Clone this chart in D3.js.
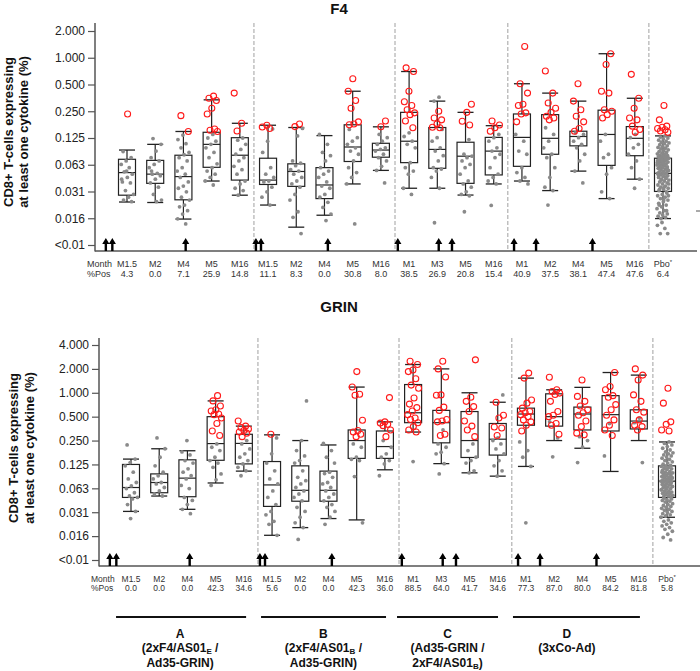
<!DOCTYPE html>
<html><head><meta charset="utf-8">
<script src="https://cdn.jsdelivr.net/npm/d3@7"></script>
<style>body{margin:0;background:#fff} svg{display:block} text{font-family:"Liberation Sans",Arial,Helvetica,sans-serif}</style>
</head><body><script>
// ---------- DATA ----------
const months = ["M1.5","M2","M4","M5","M16","M1.5","M2","M4","M5","M16","M1","M3","M5","M16","M1","M2","M4","M5","M16","Pbo"];
const f4PctPos = ["4.3","0.0","7.1","25.9","14.8","11.1","8.3","0.0","30.8","8.0","38.5","26.9","20.8","15.4","40.9","37.5","38.1","47.4","47.6","6.4"];
const grinPctPos = ["0.0","0.0","0.0","42.3","34.6","5.6","0.0","0.0","42.3","36.0","88.5","64.0","41.7","34.6","77.3","87.0","80.0","84.2","81.8","5.8"];
const tickValues = [0.0078125,0.015625,0.03125,0.0625,0.125,0.25,0.5,1,2,4];
const tickLabels = ["<0.01","0.016","0.031","0.063","0.125","0.250","0.500","1.000","2.000","4.000"];
const groupBreaks = [4.5, 9.5, 13.5, 18.5];
const vaccinationSlots = [-0.75,-0.52,2.08,4.57,4.75,7.12,9.6,11.05,11.52,13.72,14.5,16.5];
const groupNames = ["A","B","C","D"];
const groupSpans = [[-0.53,4.08],[4.61,9.04],[9.43,13.01],[13.54,18.04]];
const groupLabelSlots = [1.74,6.82,11.22,15.45];
const groupRegimens = [
  [[["(2xF4/AS01",0],["E",1],[" /",0]],[["Ad35-GRIN)",0]]],
  [[["(2xF4/AS01",0],["B",1],[" /",0]],[["Ad35-GRIN)",0]]],
  [[["(Ad35-GRIN /",0]],[["2xF4/AS01",0],["B",1],[")",0]]],
  [[["(3xCo-Ad)",0]]]
];

// box stats: [whisker low, q1, median, q3, whisker high]
const f4Box = [
  [0.0238,0.0284,0.051,0.072,0.0915],
  [0.0235,0.0386,0.049,0.070,0.106],
  [0.0153,0.0252,0.046,0.080,0.148],
  [0.041,0.0585,0.106,0.145,0.336],
  [0.0284,0.042,0.080,0.126,0.183],
  [0.022,0.0375,0.042,0.074,0.174],
  [0.0124,0.0357,0.0525,0.064,0.164],
  [0.0169,0.026,0.037,0.058,0.133],
  [0.038,0.068,0.099,0.176,0.42],
  [0.054,0.076,0.0915,0.109,0.167],
  [0.034,0.066,0.115,0.243,0.70],
  [0.034,0.057,0.093,0.164,0.325],
  [0.0285,0.0386,0.078,0.112,0.243],
  [0.038,0.048,0.089,0.127,0.172],
  [0.041,0.060,0.127,0.233,0.51],
  [0.032,0.082,0.124,0.229,0.40],
  [0.053,0.102,0.13,0.149,0.325],
  [0.026,0.0615,0.137,0.257,1.11],
  [0.043,0.079,0.124,0.168,0.35],
  [0.0155,0.0313,0.05,0.074,0.132]
];
// responders (red open circles)
const f4Pos = [
  [0.233],
  [],
  [0.223,0.148],
  [0.37,0.35,0.33,0.27,0.233,0.158,0.153,0.148],
  [0.40,0.183,0.150],
  [0.174,0.166,0.160],
  [0.18,0.168],
  [],
  [0.58,0.42,0.33,0.27,0.19,0.18,0.176],
  [0.194,0.167],
  [0.77,0.70,0.42,0.32,0.29,0.26,0.24,0.229,0.194,0.163],
  [0.25,0.21,0.20,0.18,0.165,0.163],
  [0.30,0.243,0.193,0.175],
  [0.194,0.175,0.163,0.149],
  [1.34,0.51,0.40,0.30,0.29,0.24,0.233,0.19],
  [0.71,0.40,0.31,0.27,0.243,0.22,0.21,0.20],
  [0.51,0.325,0.26,0.22,0.19,0.16,0.149],
  [1.11,0.84,0.42,0.40,0.26,0.25,0.229,0.21],
  [0.65,0.35,0.27,0.21,0.20,0.17,0.156,0.145],
  [0.29,0.20,0.17,0.165,0.16,0.155,0.15,0.145]
];
// non-responders (grey dots)
const f4Neg = [
  [0.088,0.075,0.069,0.063,0.058,0.052,0.049,0.045,0.040,0.039,0.032,0.029,0.027,0.025,0.024,0.053,0.043],
  [0.123,0.106,0.089,0.075,0.069,0.063,0.058,0.050,0.049,0.047,0.043,0.039,0.035,0.029,0.025,0.024,0.053],
  [0.135,0.12,0.108,0.097,0.086,0.081,0.075,0.069,0.058,0.053,0.049,0.045,0.040,0.036,0.034,0.031,0.027,0.025,0.022,0.021,0.019,0.0174,0.0154,0.0135],
  [0.137,0.125,0.115,0.106,0.097,0.086,0.075,0.064,0.058,0.053,0.049,0.045,0.041,0.037],
  [0.125,0.118,0.106,0.093,0.082,0.075,0.069,0.060,0.055,0.049,0.041,0.038,0.034,0.032,0.0284],
  [0.158,0.115,0.086,0.058,0.049,0.045,0.041,0.040,0.035,0.031,0.027,0.022],
  [0.16,0.132,0.069,0.065,0.061,0.055,0.053,0.049,0.045,0.041,0.038,0.035,0.029,0.025,0.0185,0.016,0.0105],
  [0.137,0.106,0.086,0.079,0.069,0.058,0.053,0.049,0.045,0.040,0.036,0.034,0.029,0.027,0.0236,0.0207,0.0174,0.0147],
  [0.156,0.126,0.115,0.106,0.097,0.089,0.082,0.069,0.058,0.051,0.045,0.038,0.0135],
  [0.137,0.126,0.115,0.106,0.097,0.093,0.089,0.082,0.075,0.069,0.060,0.054,0.039],
  [0.143,0.13,0.115,0.106,0.097,0.066,0.058,0.053,0.049,0.034,0.029],
  [0.36,0.325,0.156,0.126,0.115,0.097,0.089,0.079,0.069,0.058,0.056,0.053,0.045,0.034,0.0139],
  [0.12,0.082,0.078,0.075,0.069,0.063,0.058,0.049,0.041,0.038,0.035,0.031,0.029,0.028,0.0185],
  [0.137,0.126,0.115,0.097,0.089,0.082,0.075,0.058,0.049,0.045,0.041,0.038,0.0218],
  [0.137,0.115,0.089,0.082,0.058,0.051,0.045,0.041,0.038],
  [0.163,0.137,0.115,0.097,0.082,0.075,0.058,0.045,0.035,0.032,0.022],
  [0.143,0.137,0.126,0.115,0.106,0.097,0.082,0.069,0.053,0.039],
  [0.137,0.115,0.082,0.075,0.058,0.049,0.031,0.026],
  [0.137,0.126,0.106,0.097,0.082,0.069,0.058,0.043,0.034],
  [0.132,0.128,0.125,0.122,0.118,0.115,0.112,0.110,0.108,0.105,0.102,0.100,0.098,0.096,0.094,0.092,0.090,0.088,0.086,0.085,0.083,0.082,0.080,0.079,0.078,0.077,0.076,0.075,0.074,0.074,
   0.073,0.072,0.071,0.070,0.069,0.068,0.067,0.066,0.065,0.064,0.063,0.062,0.061,0.060,0.059,0.058,0.057,0.056,0.055,0.054,0.053,0.052,0.051,0.050,0.050,0.049,0.048,0.047,0.046,0.045,0.044,0.043,0.042,0.041,0.040,0.039,0.038,0.037,0.036,0.035,0.034,0.033,0.032,0.031,
   0.070,0.066,0.062,0.058,0.055,0.052,0.048,0.045,0.042,0.038,0.035,0.033,
   0.030,0.029,0.028,0.027,0.026,0.025,0.024,0.023,0.022,0.021,0.020,0.019,0.018,0.0175,0.017,0.0165,0.016,0.0155,0.028,0.025,0.022,0.019,
   0.014,0.013,0.012,0.0105,0.0105]
];

const grinBox = [
  [0.032,0.048,0.064,0.125,0.146],
  [0.050,0.055,0.074,0.095,0.197],
  [0.034,0.049,0.084,0.143,0.186],
  [0.073,0.141,0.229,0.50,0.79],
  [0.103,0.127,0.23,0.30,0.38],
  [0.016,0.037,0.069,0.136,0.295],
  [0.020,0.043,0.059,0.120,0.25],
  [0.026,0.043,0.059,0.103,0.22],
  [0.025,0.149,0.25,0.34,1.18],
  [0.107,0.149,0.21,0.33,0.43],
  [0.32,0.42,0.56,1.27,2.27],
  [0.128,0.234,0.42,0.60,2.0],
  [0.098,0.153,0.25,0.58,1.0],
  [0.089,0.164,0.26,0.41,0.76],
  [0.118,0.39,0.54,0.64,1.53],
  [0.25,0.38,0.50,0.97,1.09],
  [0.20,0.34,0.54,0.66,1.17],
  [0.102,0.33,0.53,0.92,1.8],
  [0.25,0.35,0.44,0.61,1.67],
  [0.027,0.048,0.077,0.12,0.24]
];
const grinPos = [
  [],[],[],
  [0.92,0.79,0.68,0.61,0.59,0.54,0.53,0.48,0.41,0.33,0.29],
  [0.44,0.38,0.365,0.35,0.335,0.32,0.31,0.28],
  [0.30],
  [],[],
  [1.85,1.18,0.96,0.93,0.45,0.335,0.32,0.30,0.28],
  [0.87,0.43,0.415,0.40,0.385,0.34,0.28],
  [2.5,2.27,1.94,1.85,1.5,1.25,1.14,0.86,0.72,0.65,0.59,0.53,0.48,0.46,0.42,0.375,0.34,0.32],
  [2.5,2.0,1.58,0.94,0.93,0.66,0.6,0.46,0.44,0.43,0.30,0.29],
  [2.6,0.88,0.78,0.67,0.58,0.44,0.38,0.34,0.28],
  [0.76,0.52,0.48,0.37,0.36,0.29],
  [1.77,1.53,0.81,0.74,0.64,0.58,0.56,0.53,0.5,0.455,0.43,0.39,0.33],
  [1.57,1.09,1.04,0.99,0.95,0.78,0.58,0.52,0.5,0.41,0.39,0.30],
  [1.45,0.9,0.78,0.68,0.61,0.56,0.52,0.44,0.375,0.31,0.295],
  [1.8,1.2,1.09,0.92,0.88,0.71,0.61,0.52,0.455,0.39,0.34,0.29],
  [2.0,1.67,1.45,0.94,0.78,0.61,0.57,0.455,0.39,0.375,0.34],
  [1.14,0.74,0.43,0.40,0.34,0.33]
];
const grinNeg = [
  [0.22,0.146,0.132,0.12,0.1,0.082,0.074,0.067,0.062,0.055,0.05,0.048,0.046,0.039,0.032,0.026],
  [0.27,0.197,0.154,0.12,0.1,0.09,0.082,0.074,0.071,0.064,0.058,0.053,0.050],
  [0.25,0.18,0.165,0.14,0.13,0.11,0.1,0.09,0.082,0.068,0.062,0.048,0.044,0.039,0.034,0.030],
  [0.227,0.206,0.187,0.154,0.14,0.13,0.115,0.095,0.08,0.068],
  [0.25,0.227,0.196,0.17,0.154,0.14,0.127,0.115,0.104,0.09],
  [0.27,0.17,0.13,0.104,0.082,0.071,0.058,0.048,0.039,0.032,0.029,0.024,0.022,0.016],
  [0.79,0.25,0.187,0.16,0.14,0.13,0.104,0.086,0.078,0.071,0.064,0.058,0.053,0.048,0.0435,0.036,0.032,0.027,0.023,0.020,0.0142],
  [0.23,0.187,0.154,0.13,0.1,0.096,0.086,0.074,0.071,0.064,0.058,0.053,0.048,0.0435,0.039,0.036,0.032,0.027,0.022],
  [0.227,0.206,0.154,0.145,0.14,0.088,0.023],
  [0.25,0.206,0.17,0.154,0.14,0.127,0.09],
  [0.136],
  [0.34,0.227,0.206,0.178,0.17,0.128,0.095],
  [0.227,0.187,0.154,0.14,0.13,0.104,0.098],
  [0.94,0.27,0.25,0.227,0.196,0.17,0.14,0.12,0.104,0.089],
  [0.24,0.187,0.154,0.118,0.023],
  [0.43,0.27,0.156],
  [0.28,0.25,0.206,0.132],
  [0.41,0.16],
  [0.48,0.42,0.132],
  [0.24,0.23,0.22,0.21,0.20,0.19,0.18,0.175,0.17,0.165,0.16,0.155,0.15,0.145,0.14,0.135,0.13,0.126,0.122,0.12,0.118,0.115,0.112,0.11,0.108,0.105,0.102,0.10,0.098,0.096,0.094,0.092,0.09,0.088,0.086,0.085,0.084,0.082,0.08,0.079,0.078,0.077,0.076,0.075,0.074,0.072,0.07,0.069,0.068,0.066,0.065,0.064,0.062,0.061,0.06,0.058,0.057,0.056,0.055,0.054,0.053,0.052,0.051,0.05,0.049,0.048,
   0.11,0.1,0.095,0.09,0.085,0.08,0.075,0.07,0.065,0.06,0.055,
   0.047,0.046,0.045,0.044,0.043,0.042,0.04,0.039,0.038,0.037,0.036,0.035,0.034,0.033,0.032,0.031,0.03,0.029,0.028,0.027,0.025,0.024,0.023,0.022,0.021,0.02,0.019,0.018,0.0165,0.015,0.014]
];

// ---------- DRAWING ----------
const svg = d3.select("body").append("svg").attr("width",700).attr("height",671);
const FONT = '"Liberation Sans",Arial,Helvetica,sans-serif';
const GREY = "#8a8a8a", RED = "#ff1a1a";

function jitter(j, phase, w){ return (((j*0.6180339887 + phase) % 1) - 0.5) * w; }

function drawPanel(c){
  const g = svg.append("g");
  const x = d3.scaleLinear().domain([0,19]).range(c.xr);
  const y = d3.scaleLog().base(2).domain(c.yd).range(c.yr);

  // title
  g.append("text").attr("x",339).attr("y",c.titleY).attr("text-anchor","middle")
    .attr("font-size",15).attr("font-weight","bold").attr("fill","#111").text(c.title);

  // y title
  const yl = g.append("g").attr("transform",`translate(0,${c.ylabY})`);
  [["CD8+ T-cells expressing",c.ylabX[0]],["at least one cytokine (%)",c.ylabX[1]]].forEach(([t,xx])=>{
    yl.append("text").attr("transform",`translate(${xx},0) rotate(-90)`).attr("text-anchor","middle")
      .attr("font-size",13).attr("font-weight","bold").attr("fill","#111").text(t);
  });

  // group separators
  groupBreaks.forEach(b=>{
    g.append("line").attr("x1",x(b)).attr("x2",x(b)).attr("y1",c.top).attr("y2",c.bottom)
      .attr("stroke","#a0a0a0").attr("stroke-width",1).attr("stroke-dasharray","4,2");
  });

  // axis
  const vals = tickValues.filter(v=>v<=c.yd[1]);
  const ax = g.append("g").attr("transform",`translate(${c.ax},0)`)
    .call(d3.axisLeft(y).tickValues(vals).tickFormat((d)=>tickLabels[tickValues.indexOf(d)]).tickSize(7).tickPadding(3));
  ax.select(".domain").remove();
  ax.attr("font-family",FONT).attr("font-size",12);
  ax.selectAll(".tick line").attr("stroke","#555").attr("stroke-width",1.2);
  ax.selectAll(".tick text").attr("fill","#222");
  g.append("line").attr("x1",c.ax).attr("x2",c.ax).attr("y1",c.top).attr("y2",c.bottom+0.5).attr("stroke","#555").attr("stroke-width",1.5);
  g.append("line").attr("x1",c.ax).attr("x2",c.right).attr("y1",c.bottom).attr("y2",c.bottom).attr("stroke","#555").attr("stroke-width",1.5);

  // boxes
  const hw = 8.5, cw = 8;
  c.box.forEach((b,i)=>{
    const cx = x(i);
    const [lo,q1,md,q3,hi] = b;
    g.append("line").attr("x1",cx).attr("x2",cx).attr("y1",y(hi)).attr("y2",y(q3)).attr("stroke","#222").attr("stroke-width",1.2);
    g.append("line").attr("x1",cx).attr("x2",cx).attr("y1",y(q1)).attr("y2",y(lo)).attr("stroke","#222").attr("stroke-width",1.2);
    g.append("line").attr("x1",cx-cw).attr("x2",cx+cw).attr("y1",y(hi)).attr("y2",y(hi)).attr("stroke","#222").attr("stroke-width",1.3);
    g.append("line").attr("x1",cx-cw).attr("x2",cx+cw).attr("y1",y(lo)).attr("y2",y(lo)).attr("stroke","#222").attr("stroke-width",1.3);
    g.append("rect").attr("x",cx-hw).attr("y",y(q3)).attr("width",2*hw).attr("height",y(q1)-y(q3))
      .attr("fill","none").attr("stroke","#222").attr("stroke-width",1.2);
    g.append("line").attr("x1",cx-hw).attr("x2",cx+hw).attr("y1",y(md)).attr("y2",y(md)).attr("stroke","#222").attr("stroke-width",1.2);
  });

  // grey points
  c.neg.forEach((arr,i)=>{
    const w = i===19 ? 12 : 13;
    g.append("g").selectAll("circle").data(arr).join("circle")
      .attr("cx",(d,j)=>x(i)+jitter(j,0.13*i+0.2,w)).attr("cy",d=>y(d)).attr("r",1.9).attr("fill",GREY);
  });
  // red responders
  c.pos.forEach((arr,i)=>{
    g.append("g").selectAll("circle").data(arr).join("circle")
      .attr("cx",(d,j)=>x(i)+jitter(j,0.37*i+0.55,12)).attr("cy",d=>y(d)).attr("r",3)
      .attr("fill","none").attr("stroke",RED).attr("stroke-width",1.1);
  });

  // vaccination arrows
  vaccinationSlots.forEach(s=>{
    const ax0 = x(s), yb = c.bottom;
    g.append("path").attr("d",`M${ax0-1.2},${yb} L${ax0-1.2},${yb-7} L${ax0-3.6},${yb-7} L${ax0},${yb-13} L${ax0+3.6},${yb-7} L${ax0+1.2},${yb-7} L${ax0+1.2},${yb} Z`)
      .attr("fill","#000");
  });

  // month / %pos labels
  const fs = c.labFs;
  g.append("text").attr("x",c.ax-8).attr("y",c.lab1).attr("font-size",fs).attr("fill","#333").text("Month");
  g.append("text").attr("x",c.ax-8).attr("y",c.lab2).attr("font-size",fs).attr("fill","#333").text("%Pos");
  months.forEach((m,i)=>{
    const t = g.append("text").attr("x",x(i)).attr("y",c.lab1).attr("text-anchor","middle").attr("font-size",fs).attr("fill","#333").text(m);
    if(i===19) t.append("tspan").attr("font-size",6).attr("dy",-3).text("*");
    g.append("text").attr("x",x(i)).attr("y",c.lab2).attr("text-anchor","middle").attr("font-size",fs).attr("fill","#333").text(c.pct[i]);
  });
  return x;
}

drawPanel({title:"F4", titleY:14, xr:[127,663], yd:[0.0078125,2], yr:[245,31], top:23, bottom:251, ax:95, right:697,
  box:f4Box, pos:f4Pos, neg:f4Neg, pct:f4PctPos, lab1:266.5, lab2:277, labFs:9, ylabX:[13,28], ylabY:132});
// small stray tick at far right of upper panel
svg.append("line").attr("x1",696).attr("x2",700).attr("y1",211).attr("y2",211).attr("stroke","#555");

const xb = drawPanel({title:"GRIN", titleY:312, xr:[131,667], yd:[0.0078125,4], yr:[560,345], top:338, bottom:566, ax:99, right:700,
  box:grinBox, pos:grinPos, neg:grinNeg, pct:grinPctPos, lab1:581.5, lab2:590.5, labFs:8.5, ylabX:[18,34], ylabY:448});

// group annotations
groupNames.forEach((n,i)=>{
  svg.append("line").attr("x1",xb(groupSpans[i][0])).attr("x2",xb(groupSpans[i][1])).attr("y1",617).attr("y2",617)
    .attr("stroke","#111").attr("stroke-width",1.8);
  const cx = xb(groupLabelSlots[i]);
  svg.append("text").attr("x",cx).attr("y",638).attr("text-anchor","middle").attr("font-size",12).attr("font-weight","bold").attr("fill","#111").text(n);
  groupRegimens[i].forEach((line,k)=>{
    const t = svg.append("text").attr("x",cx).attr("y",652+k*14.5).attr("text-anchor","middle")
      .attr("font-size",12).attr("font-weight","bold").attr("fill","#111");
    let lowered = false;
    line.forEach(([s,sub])=>{
      const ts = t.append("tspan").text(s);
      if(sub){ ts.attr("font-size",8).attr("dy",2); lowered = true; }
      else if(lowered){ ts.attr("dy",-2); lowered = false; }
    });
  });
});
</script></body></html>
